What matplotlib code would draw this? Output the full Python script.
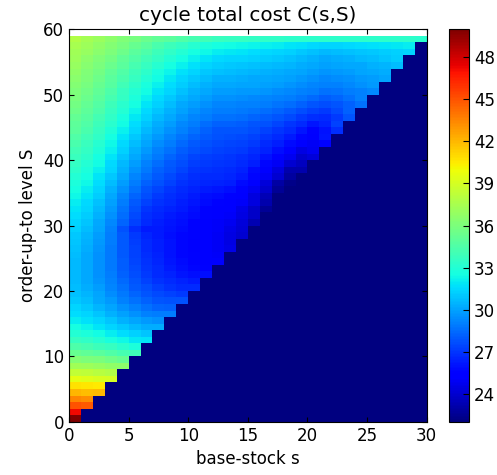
import matplotlib
matplotlib.use("Agg")
import matplotlib.pyplot as plt
import numpy as np

plt.rcParams["font.family"] = "DejaVu Sans"
plt.rcParams["font.size"] = 12
plt.rcParams["xtick.direction"] = "in"
plt.rcParams["ytick.direction"] = "in"
plt.rcParams["xtick.top"] = True
plt.rcParams["ytick.right"] = True

#%% Cost table: one row per order-up-to level S, entries for s = 0 .. S // 2
base_stock = np.arange(30)
order_up_to = np.arange(59)

cost_rows = [
    [50.0],
    [47.2],
    [45.0, 44.8],
    [43.5, 43.3],
    [42.1, 41.9, 42.0],
    [40.8, 40.6, 40.5],
    [39.5, 39.3, 39.1, 39.0],
    [38.4, 38.2, 38.0, 37.8],
    [37.3, 37.1, 36.9, 36.7, 36.6],
    [36.3, 36.1, 35.9, 35.6, 35.3],
    [35.3, 35.1, 34.8, 34.5, 34.2, 34.0],
    [34.4, 34.2, 33.9, 33.6, 33.2, 32.8],
    [33.7, 33.4, 33.1, 32.7, 32.3, 31.9, 31.8],
    [33.0, 32.8, 32.4, 32.0, 31.6, 31.2, 30.9],
    [32.5, 32.2, 31.8, 31.4, 31.0, 30.6, 30.3, 30.3],
    [32.0, 31.7, 31.3, 30.9, 30.4, 30.0, 29.7, 29.5],
    [31.6, 31.3, 30.9, 30.4, 29.9, 29.5, 29.1, 28.9, 28.9],
    [31.3, 31.0, 30.5, 30.0, 29.5, 29.0, 28.6, 28.3, 28.2],
    [31.0, 30.7, 30.2, 29.7, 29.1, 28.6, 28.2, 27.9, 27.7, 27.7],
    [30.8, 30.5, 30.0, 29.4, 28.8, 28.3, 27.9, 27.5, 27.3, 27.1],
    [30.7, 30.3, 29.8, 29.2, 28.6, 28.0, 27.6, 27.2, 26.9, 26.7, 26.7],
    [30.6, 30.2, 29.6, 29.0, 28.4, 27.8, 27.3, 26.9, 26.6, 26.4, 26.2],
    [30.6, 30.1, 29.5, 28.9, 28.2, 27.6, 27.1, 26.7, 26.4, 26.1, 25.9, 25.9],
    [30.6, 30.1, 29.5, 28.8, 28.1, 27.5, 27.0, 26.6, 26.2, 25.9, 25.7, 25.5],
    [30.6, 30.1, 29.5, 28.8, 28.1, 27.4, 26.9, 26.5, 26.1, 25.8, 25.6, 25.4, 25.2],
    [30.7, 30.2, 29.5, 28.8, 28.0, 27.3, 26.8, 26.4, 26.0, 25.7, 25.5, 25.2, 25.0],
    [30.8, 30.3, 29.6, 28.8, 28.0, 27.3, 26.7, 26.3, 26.0, 25.7, 25.4, 25.2, 24.9, 24.6],
    [30.9, 30.4, 29.7, 28.9, 28.0, 27.2, 26.6, 26.3, 26.0, 25.7, 25.4, 25.2, 24.9, 24.5],
    [31.0, 30.5, 29.8, 28.9, 28.0, 27.1, 26.5, 26.2, 25.9, 25.7, 25.5, 25.2, 24.9, 24.5, 24.0],
    [31.2, 30.7, 30.0, 29.1, 27.7, 26.8, 26.2, 26.2, 26.0, 25.8, 25.5, 25.3, 25.0, 24.6, 24.1],
    [31.4, 30.9, 30.2, 29.3, 28.3, 27.3, 26.6, 26.3, 26.1, 25.9, 25.6, 25.3, 25.0, 24.8, 24.2, 23.3],
    [31.6, 31.1, 30.4, 29.5, 28.5, 27.5, 26.8, 26.5, 26.2, 26.0, 25.8, 25.5, 25.2, 25.0, 24.5, 23.8],
    [31.8, 31.3, 30.6, 29.7, 28.7, 27.7, 27.0, 26.7, 26.4, 26.2, 25.9, 25.6, 25.3, 25.1, 24.6, 23.8, 22.6],
    [32.0, 31.5, 30.8, 29.9, 28.9, 28.0, 27.3, 26.9, 26.6, 26.3, 26.1, 25.8, 25.5, 25.4, 25.0, 24.3, 23.1],
    [32.3, 31.8, 31.1, 30.2, 29.2, 28.3, 27.6, 27.1, 26.8, 26.5, 26.2, 25.9, 25.8, 25.6, 25.2, 24.4, 23.4, 22.0],
    [32.5, 32.0, 31.3, 30.4, 29.5, 28.6, 27.9, 27.4, 27.0, 26.7, 26.4, 26.2, 26.1, 25.9, 25.5, 24.8, 23.9, 22.6],
    [32.8, 32.3, 31.6, 30.7, 29.8, 28.9, 28.2, 27.7, 27.3, 26.9, 26.6, 26.5, 26.4, 26.3, 25.8, 25.1, 24.2, 22.9, 22.3],
    [33.0, 32.5, 31.8, 31.0, 30.1, 29.2, 28.5, 28.0, 27.5, 27.1, 26.8, 26.7, 26.6, 26.5, 26.2, 25.7, 24.9, 24.0, 22.8],
    [33.3, 32.8, 32.1, 31.3, 30.4, 29.5, 28.8, 28.2, 27.8, 27.4, 27.0, 26.9, 26.8, 26.7, 26.4, 25.8, 25.2, 24.3, 23.1, 23.2],
    [33.5, 33.0, 32.4, 31.5, 30.6, 29.8, 29.1, 28.5, 28.0, 27.6, 27.2, 27.1, 27.0, 26.9, 26.7, 26.3, 25.7, 24.9, 24.0, 23.6],
    [33.8, 33.3, 32.6, 31.8, 30.9, 30.1, 29.4, 28.8, 28.3, 27.8, 27.4, 27.2, 27.1, 27.0, 26.8, 26.5, 26.0, 25.5, 24.8, 23.9, 24.2],
    [34.0, 33.5, 32.9, 32.1, 31.2, 30.4, 29.7, 29.1, 28.6, 28.1, 27.7, 27.5, 27.3, 27.2, 27.1, 26.8, 26.4, 25.9, 25.2, 24.5, 24.8],
    [34.3, 33.8, 33.1, 32.3, 31.5, 30.7, 30.0, 29.4, 28.9, 28.4, 28.0, 27.7, 27.5, 27.4, 27.3, 27.1, 26.7, 26.3, 25.8, 25.1, 24.9, 25.5],
    [34.5, 34.0, 33.4, 32.6, 31.8, 31.0, 30.3, 29.7, 29.2, 28.7, 28.3, 28.0, 27.7, 27.6, 27.5, 27.3, 27.0, 26.7, 26.2, 25.7, 25.3, 26.1],
    [34.8, 34.3, 33.6, 32.9, 32.1, 31.3, 30.6, 30.0, 29.5, 29.0, 28.6, 28.2, 27.9, 27.9, 27.8, 27.6, 27.3, 27.0, 26.6, 26.1, 25.6, 26.0, 26.8],
    [35.0, 34.5, 33.9, 33.2, 32.4, 31.6, 30.9, 30.3, 29.8, 29.3, 28.9, 28.5, 28.2, 28.2, 28.1, 27.9, 27.7, 27.4, 27.0, 26.6, 26.1, 26.4, 27.3],
    [35.2, 34.7, 34.1, 33.4, 32.7, 31.9, 31.2, 30.6, 30.1, 29.6, 29.2, 28.9, 28.6, 28.6, 28.5, 28.3, 28.1, 27.8, 27.5, 27.1, 26.8, 26.6, 27.1, 27.9],
    [35.5, 35.0, 34.4, 33.7, 33.0, 32.2, 31.5, 30.9, 30.4, 29.9, 29.5, 29.2, 28.9, 28.9, 28.8, 28.7, 28.5, 28.3, 28.0, 27.6, 27.3, 27.1, 27.5, 28.2],
    [35.7, 35.2, 34.6, 33.9, 33.2, 32.5, 31.8, 31.2, 30.7, 30.2, 29.8, 29.5, 29.2, 29.2, 29.1, 29.0, 28.9, 28.7, 28.5, 28.2, 27.9, 27.6, 27.8, 28.2, 28.6],
    [35.9, 35.4, 34.9, 34.2, 33.5, 32.8, 32.1, 31.5, 31.0, 30.5, 30.1, 29.8, 29.5, 29.5, 29.4, 29.3, 29.2, 29.1, 28.9, 28.7, 28.4, 28.1, 28.3, 28.6, 29.0],
    [36.1, 35.6, 35.1, 34.4, 33.7, 33.0, 32.4, 31.8, 31.3, 30.8, 30.4, 30.1, 29.8, 29.8, 29.7, 29.7, 29.6, 29.4, 29.3, 29.1, 28.9, 28.6, 28.7, 28.9, 29.1, 29.3],
    [36.3, 35.8, 35.3, 34.7, 34.0, 33.3, 32.7, 32.1, 31.6, 31.1, 30.7, 30.4, 30.1, 30.1, 30.0, 30.0, 29.9, 29.8, 29.6, 29.4, 29.2, 29.0, 29.1, 29.3, 29.5, 29.7],
    [36.5, 36.0, 35.5, 34.9, 34.3, 33.6, 33.0, 32.4, 31.9, 31.4, 31.0, 30.7, 30.4, 30.4, 30.3, 30.2, 30.1, 30.0, 29.9, 29.7, 29.5, 29.3, 29.4, 29.5, 29.7, 29.8, 30.0],
    [36.7, 36.2, 35.7, 35.1, 34.5, 33.9, 33.3, 32.7, 32.2, 31.7, 31.3, 31.0, 30.8, 30.7, 30.6, 30.5, 30.4, 30.3, 30.2, 30.0, 29.8, 29.6, 29.7, 29.8, 30.0, 30.1, 30.3],
    [36.9, 36.4, 35.9, 35.4, 34.8, 34.2, 33.6, 33.1, 32.6, 32.1, 31.7, 31.4, 31.1, 31.0, 30.9, 30.8, 30.7, 30.6, 30.5, 30.3, 30.1, 29.9, 30.0, 30.1, 30.2, 30.4, 30.5, 30.7],
    [37.1, 36.6, 36.2, 35.7, 35.1, 34.5, 34.0, 33.5, 33.0, 32.5, 32.1, 31.8, 31.5, 31.4, 31.3, 31.2, 31.1, 31.0, 30.8, 30.6, 30.4, 30.2, 30.3, 30.4, 30.6, 30.7, 30.9, 31.1],
    [37.3, 36.9, 36.5, 36.0, 35.5, 34.9, 34.4, 33.9, 33.4, 33.0, 32.6, 32.3, 32.0, 31.9, 31.8, 31.6, 31.5, 31.3, 31.2, 31.0, 30.8, 30.6, 30.7, 30.8, 30.9, 31.0, 31.1, 31.2, 31.4],
    [37.5, 37.1, 36.7, 36.3, 35.8, 35.3, 34.8, 34.3, 33.9, 33.5, 33.1, 32.8, 32.5, 32.4, 32.3, 32.2, 32.1, 32.0, 31.8, 31.7, 31.5, 31.3, 31.4, 31.5, 31.6, 31.7, 31.8, 31.9, 32.0],
    [37.8, 37.4, 37.0, 36.6, 36.2, 35.8, 35.4, 35.1, 34.8, 34.5, 34.2, 34.0, 33.8, 33.7, 33.6, 33.5, 33.4, 33.4, 33.3, 33.3, 33.3, 33.3, 33.3, 33.3, 33.3, 33.3, 33.3, 33.3, 33.3, 33.2],
]

cbar_ticks = [24, 27, 30, 33, 36, 39, 42, 45, 48]

cost = np.full((len(order_up_to), len(base_stock)), np.nan)
for S, row in zip(order_up_to, cost_rows):
    cost[S, : len(row)] = row
cost = np.ma.masked_invalid(cost)

#%% Plot
cmap = plt.get_cmap("jet").copy()
cmap.set_bad(cmap(0.0))

fig = plt.figure(figsize=(4.97, 4.75), dpi=100)
ax = fig.add_axes([0.1388, 0.1122, 0.7198, 0.8261])
cax = fig.add_axes([0.904, 0.1122, 0.0402, 0.8261])

s_edges = np.append(base_stock, base_stock[-1] + 1)
S_edges = np.append(order_up_to, order_up_to[-1] + 1)
mesh = ax.pcolormesh(s_edges, S_edges, cost, cmap=cmap)

ax.set_xlim(0, 30)
ax.set_ylim(0, 60)
ax.set_xticks(np.arange(0, 31, 5))
ax.set_yticks(np.arange(0, 61, 10))
ax.set_xlabel("base-stock s")
ax.set_ylabel("order-up-to level S")
ax.set_title("cycle total cost C(s,S)", fontsize=14.4)

cb = fig.colorbar(mesh, cax=cax, ticks=cbar_ticks)
cb.ax.tick_params(direction="in", length=4)

fig.savefig("out.png", dpi=100)
